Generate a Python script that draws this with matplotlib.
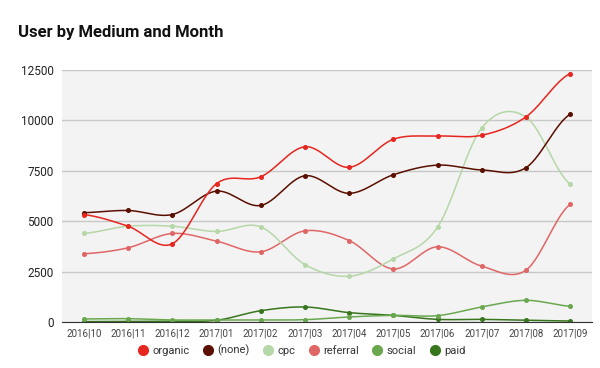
import numpy as np
import matplotlib.pyplot as plt
from matplotlib.lines import Line2D

# data
months = ['2016|10', '2016|11', '2016|12', '2017|01', '2017|02', '2017|03',
          '2017|04', '2017|05', '2017|06', '2017|07', '2017|08', '2017|09']
organic = [5330, 4750, 3880, 6860, 7200, 8690, 7670, 9060, 9220, 9260, 10170, 12320]
none_ = [5420, 5530, 5330, 6490, 5780, 7250, 6380, 7300, 7780, 7540, 7650, 10300]
cpc = [4390, 4750, 4750, 4490, 4720, 2850, 2270, 3130, 4700, 9620, 10170, 6840]
referral = [3380, 3680, 4390, 4010, 3480, 4520, 4040, 2630, 3730, 2770, 2570, 5830]
social = [150, 165, 100, 100, 100, 115, 250, 330, 315, 745, 1075, 780]
paid = [20, 30, 40, 85, 560, 745, 465, 330, 130, 130, 85, 50]

series = [('organic', organic, '#e6261f'),
          ('(none)', none_, '#5b0f00'),
          ('cpc', cpc, '#b6d7a8'),
          ('referral', referral, '#e06666'),
          ('social', social, '#6aa84f'),
          ('paid', paid, '#38761d')]


def smooth(y, n=30, t=0.5):
    # cardinal spline through the points (drawing only, data stays as is)
    y = np.asarray(y, float)
    x = np.arange(len(y), dtype=float)
    yp = np.r_[y[0], y, y[-1]]
    xs, ys = [], []
    for i in range(len(y) - 1):
        m0 = t * (yp[i + 2] - yp[i])
        m1 = t * (yp[i + 3] - yp[i + 1])
        s = np.linspace(0, 1, n)
        h00 = 2 * s**3 - 3 * s**2 + 1
        h10 = s**3 - 2 * s**2 + s
        h01 = -2 * s**3 + 3 * s**2
        h11 = s**3 - s**2
        xs.append(x[i] + s)
        ys.append(h00 * y[i] + h10 * m0 + h01 * y[i + 1] + h11 * m1)
    return np.concatenate(xs), np.concatenate(ys)


plt.rcParams['font.family'] = ['Roboto', 'DejaVu Sans']

fig = plt.figure(figsize=(6, 3.68), dpi=100)
ax = fig.add_axes([0.103, 0.125, 0.884, 0.685])
ax.set_facecolor('#f3f3f3')

xi = np.arange(len(months))
for name, vals, col in series[::-1]:
    sx, sy = smooth(vals)
    ax.plot(sx, sy, color=col, lw=1.1)
    ax.plot(xi, vals, 'o', color=col, ms=2.6)

ax.set_xlim(-0.5, len(months) - 0.5)
ax.set_ylim(0, 12500)
ax.set_yticks(np.arange(0, 12501, 2500))
ax.set_xticks(xi)
ax.set_xticklabels(months, fontsize=7, color='#444444')
ax.tick_params(axis='y', labelsize=8.5, colors='#222222', length=0, pad=6)
ax.tick_params(axis='x', length=0, pad=5)
ax.grid(axis='y', color='#c8c8c8', lw=1)
ax.set_axisbelow(True)
for s in ['top', 'right', 'left']:
    ax.spines[s].set_visible(False)
ax.spines['bottom'].set_color('#333333')

fig.text(0.03, 0.9, 'User by Medium and Month', fontsize=12, fontweight='bold',
         color='#111111')

handles = [Line2D([], [], ls='none', marker='o', ms=7, color=c) for _, _, c in series]
fig.legend(handles, [n for n, _, _ in series], loc='center', bbox_to_anchor=(0.5, 0.048),
           ncol=6, frameon=False, fontsize=8, handletextpad=0.1, columnspacing=0.9,
           handlelength=1.5, labelcolor='#333333')

fig.savefig('out.png', dpi=100)
